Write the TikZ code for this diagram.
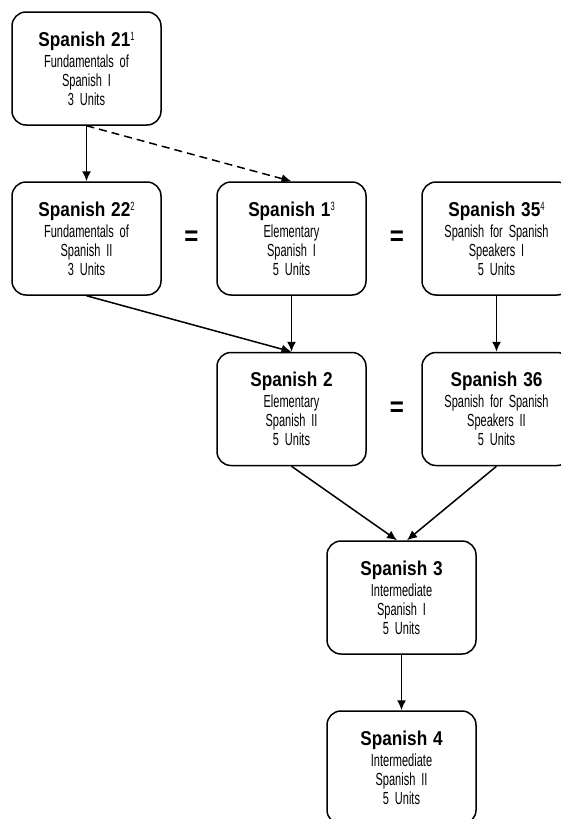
\documentclass[tikz,border=0pt]{standalone}
\usepackage{fontspec}
\setmainfont{Liberation Sans}
\newfontfamily\narrowfont[FakeStretch=0.63,WordSpace={0.45,0,0}]{Liberation Sans}
\newfontfamily\titlefont[FakeStretch=0.86]{Liberation Sans}
\usetikzlibrary{arrows.meta}
\newcommand{\crsnote}[1]{\raisebox{6pt}{\narrowfont\fontsize{12}{12}\selectfont #1}}
\newcommand{\crstitle}[1]{{\titlefont\bfseries\fontsize{20}{22}\selectfont #1}}
\tikzstyle{course} = [rectangle, draw, text width=140pt, text centered,
    rounded corners=14pt, minimum height=113pt, inner sep=4.5pt,
    font=\narrowfont\fontsize{17.5}{19}\selectfont]
\tikzstyle{equal} = [font=\titlefont\bfseries\fontsize{28}{28}\selectfont]

\begin{document}
\begin{tikzpicture}[node distance = 205pt, line width=1.5pt, >={Latex[length=10pt,width=9pt]}]
    \useasboundingbox (0,0) rectangle (560pt,-819pt);
    \node[course] (sp21) at (86.5pt,-68.5pt) {\crstitle{Spanish 21}\crsnote{1}\\[2pt] Fundamentals of\\ Spanish I\\ 3 Units};
    \node[course, below of=sp21, node distance = 170pt] (sp22) {\crstitle{Spanish 22}\crsnote{2}\\[2pt] Fundamentals of\\ Spanish II\\ 3 Units};
    \node[course, right of=sp22] (sp1) {\crstitle{Spanish 1}\crsnote{3}\\[2pt] Elementary\\ Spanish I\\ 5 Units};
    \node[course, right of=sp1] (sp35) {\crstitle{Spanish 35}\crsnote{4}\\[2pt] Spanish for Spanish\\ Speakers I\\ 5 Units};
    \node[course, below of=sp1, node distance = 170.5pt] (sp2) {\crstitle{Spanish 2}\\[2pt] Elementary\\ Spanish II\\ 5 Units};
    \node[course, right of=sp2] (sp36) {\crstitle{Spanish 36}\\[2pt] Spanish for Spanish\\ Speakers II\\ 5 Units};
    \node[course, below of=sp2, node distance = 188.5pt, xshift=110pt] (sp3) {\crstitle{Spanish 3}\\[2pt] Intermediate\\ Spanish I\\ 5 Units};
    \node[course, below of=sp3, node distance = 170pt] (sp4) {\crstitle{Spanish 4}\\[2pt] Intermediate\\ Spanish II\\ 5 Units};

    \node[equal, right of=sp22, node distance = 105pt] (eq1) {=};
    \node[equal, right of=sp1, node distance = 105.5pt] (eq2) {=};
    \node[equal, right of=sp2, node distance = 105.5pt] (eq3) {=};

    \path [->] (sp21) edge (sp22);
    \path [->, dash pattern=on 8pt off 5pt] (sp21.south) edge (sp1.north);
    \path [->] (sp22.south) edge (sp2.north);
    \path [->] (sp1) edge (sp2);
    \path [->] (sp35) edge (sp36);
    \path [->] (sp2.south) edge ([xshift=-4.5pt]sp3.north);
    \path [->] (sp36.south) edge ([xshift=5.5pt]sp3.north);
    \path [->] (sp3) edge (sp4);
  \end{tikzpicture}
\end{document}
